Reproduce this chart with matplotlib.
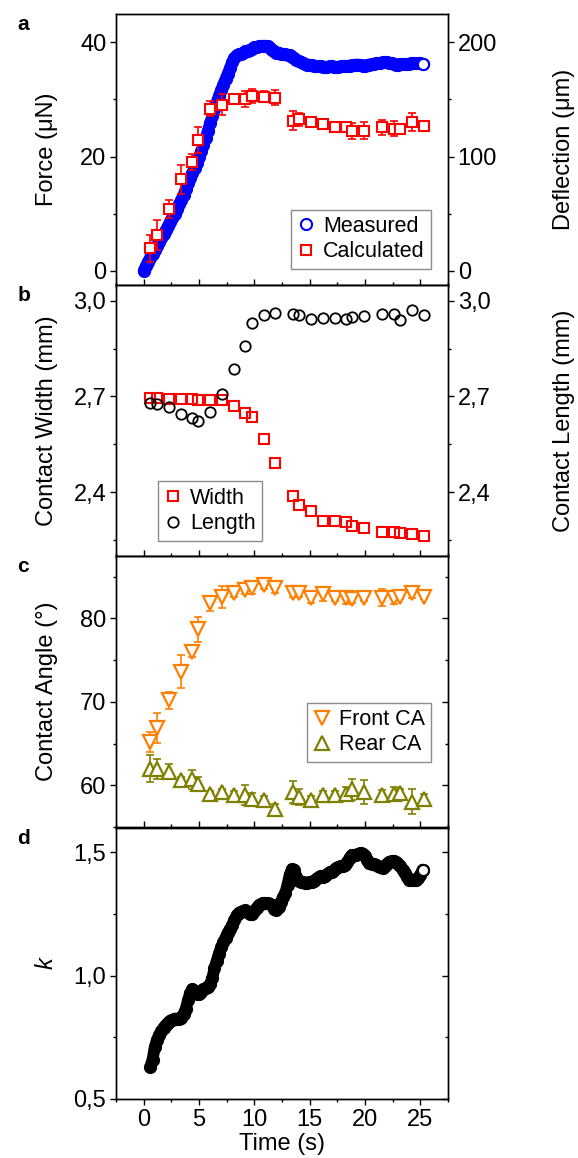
import numpy as np
import matplotlib
matplotlib.use("Agg")
import matplotlib.pyplot as plt
from matplotlib.ticker import MultipleLocator, FuncFormatter

plt.rcParams["font.family"] = ["Liberation Sans", "DejaVu Sans"]
plt.rcParams["font.size"] = 17
plt.rcParams["axes.linewidth"] = 1.0

BLUE = "#0000ff"
RED = "#ff0000"
ORANGE = "#ff7f00"
OLIVE = "#808000"

# measured force (uN), sampled every 0.2 s from t = 0
dt_measured = 0.2
force_measured = [
    0.0, 0.8, 1.6, 2.3, 3.0, 3.7, 4.4, 5.0, 5.7, 6.4,
    7.1, 7.8, 8.6, 9.3, 10.0, 10.8, 11.6, 12.4, 13.3, 14.3,
    15.3, 16.2, 17.1, 18.0, 18.9, 19.9, 20.9, 22.0, 23.2, 24.5,
    25.8, 27.1, 28.3, 29.5, 30.6, 31.6, 32.6, 33.6, 34.5, 35.5,
    36.5, 37.3, 37.7, 37.9, 38.0, 38.2, 38.4, 38.5, 38.7, 38.9,
    39.1, 39.2, 39.3, 39.3, 39.4, 39.4, 39.3, 39.0, 38.7, 38.4,
    38.2, 38.1, 38.0, 37.9, 37.9, 37.8, 37.7, 37.5, 37.2, 36.9,
    36.7, 36.5, 36.3, 36.2, 36.1, 36.0, 36.0, 35.9, 35.8, 35.8,
    35.8, 35.7, 35.7, 35.7, 35.8, 35.8, 35.7, 35.7, 35.7, 35.8,
    35.8, 35.8, 35.9, 35.9, 36.0, 36.0, 36.1, 36.1, 36.0, 35.9,
    35.9, 36.0, 36.1, 36.2, 36.2, 36.3, 36.3, 36.4, 36.5, 36.5,
    36.5, 36.4, 36.3, 36.2, 36.1, 36.1, 36.2, 36.2, 36.2, 36.2,
    36.2, 36.3, 36.3, 36.3, 36.4, 36.3, 36.2,
]

# k, sampled every 0.2 s from t = 0.6
t0_k = 0.6
dt_k = 0.2
k_values = [
    0.630, 0.660, 0.710, 0.740, 0.760, 0.775, 0.790, 0.800, 0.810, 0.818,
    0.822, 0.826, 0.826, 0.826, 0.830, 0.845, 0.865, 0.900, 0.930, 0.945,
    0.940, 0.925, 0.925, 0.935, 0.945, 0.950, 0.955, 0.965, 0.990, 1.030,
    1.060, 1.090, 1.115, 1.135, 1.155, 1.175, 1.190, 1.205, 1.225, 1.245,
    1.255, 1.260, 1.262, 1.265, 1.258, 1.250, 1.252, 1.262, 1.275, 1.285,
    1.292, 1.295, 1.293, 1.295, 1.290, 1.285, 1.272, 1.265, 1.280, 1.300,
    1.320, 1.335, 1.370, 1.410, 1.432, 1.430, 1.400, 1.385, 1.380, 1.380,
    1.378, 1.378, 1.380, 1.382, 1.385, 1.392, 1.400, 1.405, 1.400, 1.405,
    1.412, 1.420, 1.422, 1.428, 1.435, 1.440, 1.445, 1.445, 1.450, 1.460,
    1.478, 1.490, 1.490, 1.488, 1.495, 1.498, 1.495, 1.485, 1.470, 1.458,
    1.455, 1.452, 1.450, 1.445, 1.440, 1.438, 1.445, 1.455, 1.462, 1.465,
    1.465, 1.460, 1.455, 1.445, 1.430, 1.415, 1.400, 1.390, 1.388, 1.390,
    1.390, 1.395, 1.410, 1.430,
]

# analysed frames
t_frames = [0.6, 1.2, 2.3, 3.4, 4.4, 4.95, 6.0, 7.1, 8.2, 9.2, 9.8, 10.9, 11.9,
            13.5, 14.0, 15.1, 16.2, 17.3, 18.3, 18.85, 19.9, 21.55, 22.65, 23.15,
            24.25, 25.35]
force_calc = [3.9, 6.2, 10.8, 16.0, 19.0, 22.9, 28.4, 29.1, 30.0, 30.1, 30.6, 30.5,
              30.3, 26.3, 26.5, 26.1, 25.7, 25.2, 25.2, 24.4, 24.5, 25.1, 24.9, 24.9,
              26.1, 25.3]
force_calc_err = [2.4, 2.6, 1.6, 2.6, 1.4, 2.2, 1.3, 1.8, 0.8, 1.4, 1.3, 1.0, 1.3,
                  1.6, 1.2, 0.6, 0.8, 0.5, 0.9, 1.4, 1.5, 1.3, 1.3, 0.5, 1.6, 0.5]
width_mm = [2.696, 2.696, 2.692, 2.692, 2.692, 2.688, 2.688, 2.688, 2.670, 2.647,
            2.637, 2.568, 2.493, 2.389, 2.359, 2.342, 2.311, 2.311, 2.307, 2.293,
            2.287, 2.276, 2.276, 2.273, 2.270, 2.262]
length_mm = [2.679, 2.675, 2.668, 2.645, 2.634, 2.624, 2.650, 2.708, 2.786, 2.858,
             2.929, 2.956, 2.962, 2.960, 2.954, 2.942, 2.945, 2.945, 2.944, 2.950,
             2.952, 2.958, 2.957, 2.940, 2.971, 2.954]
front_ca = [65.2, 66.9, 70.2, 73.6, 76.0, 78.7, 81.8, 82.6, 83.1, 83.4, 83.6, 84.0,
            83.7, 83.0, 83.0, 82.4, 82.9, 82.4, 82.5, 82.3, 82.4, 82.5, 82.5, 82.6,
            83.0, 82.6]
front_ca_err = [1.2, 1.8, 1.0, 2.0, 0.6, 1.5, 0.9, 1.3, 0.5, 0.5, 0.7, 0.5, 0.7,
                0.4, 0.4, 0.6, 0.8, 0.3, 0.8, 0.4, 0.3, 1.0, 0.8, 0.3, 0.6, 0.3]
rear_ca = [62.0, 61.9, 61.6, 60.6, 60.7, 60.2, 58.9, 59.2, 58.8, 58.8, 58.4, 58.2,
           57.2, 59.2, 58.6, 58.2, 58.8, 58.8, 59.0, 59.5, 59.2, 58.8, 59.0, 59.1,
           58.0, 58.4]
rear_ca_err = [1.6, 1.2, 0.9, 0.4, 1.1, 0.8, 0.4, 0.4, 0.5, 1.2, 0.7, 0.5, 0.6,
               1.3, 1.0, 0.5, 0.5, 0.5, 0.8, 1.3, 1.4, 0.6, 0.8, 0.5, 1.5, 0.6]

t_measured = np.arange(len(force_measured)) * dt_measured
t_k = t0_k + np.arange(len(k_values)) * dt_k

comma = FuncFormatter(lambda v, p: f"{v:.1f}".replace(".", ","))

fig = plt.figure(figsize=(5.78, 11.58), dpi=100)
W, H = 578.0, 1158.0
left, width = 116 / W, 332 / W
ph = 271.2 / H
bottoms = [1 - 285.0 / H, 1 - 556.0 / H, 1 - 827.0 / H, 1 - 1099.0 / H]
axs = [fig.add_axes([left, b, width, ph]) for b in bottoms]

leg_kw = dict(frameon=True, fancybox=False, edgecolor="#8c8c8c", framealpha=1,
              fontsize=15.5, handlelength=0.8, handletextpad=0.4, borderpad=0.3,
              labelspacing=0.2, borderaxespad=0)


def style(ax, last=False):
    ax.set_xlim(-2.5, 27.5)
    ax.xaxis.set_major_locator(MultipleLocator(5))
    ax.xaxis.set_minor_locator(MultipleLocator(2.5))
    if last:
        ax.tick_params(axis="x", which="major", direction="out", length=4, width=1)
        ax.tick_params(axis="x", which="minor", direction="out", length=2.5, width=1)
    else:
        ax.tick_params(axis="x", which="major", direction="inout", length=8, width=1,
                       labelbottom=False)
        ax.tick_params(axis="x", which="minor", direction="inout", length=5, width=1)
    ax.tick_params(axis="y", which="major", direction="out", length=4, width=1, pad=3)
    ax.tick_params(axis="y", which="minor", direction="out", length=2.5, width=1)


def right_axis(ax, lim, major, minor, labels=True, fmt=None):
    rx = ax.twinx()
    rx.set_ylim(*lim)
    rx.yaxis.set_major_locator(MultipleLocator(major))
    rx.yaxis.set_minor_locator(MultipleLocator(minor))
    if fmt is not None:
        rx.yaxis.set_major_formatter(fmt)
    d = "out" if labels else "in"
    rx.tick_params(axis="y", which="major", direction=d, length=4, width=1,
                   labelright=labels, pad=3)
    rx.tick_params(axis="y", which="minor", direction=d, length=2.5, width=1)
    return rx


# a: force
ax = axs[0]
style(ax)
ax.plot(t_measured, force_measured, color=BLUE, lw=8.5, solid_capstyle="round",
        zorder=1)
ax.plot(t_measured, force_measured, ls="none", marker="o", ms=8, mfc="none",
        mec=BLUE, mew=1.5, zorder=2, label="Measured")
ax.plot(t_measured[-1], force_measured[-1], ls="none", marker="o", ms=8, mfc="white",
        mec=BLUE, mew=1.5, zorder=2)
ax.errorbar(t_frames, force_calc, yerr=force_calc_err, fmt="none", ecolor=RED,
            elinewidth=1.2, capsize=3, capthick=1.2, zorder=3)
ax.plot(t_frames, force_calc, ls="none", marker="s", ms=7, mfc="white", mec=RED,
        mew=1.5, zorder=4, label="Calculated")
ax.set_ylim(-2.5, 45)
ax.yaxis.set_major_locator(MultipleLocator(20))
ax.yaxis.set_minor_locator(MultipleLocator(10))
ax.set_ylabel("Force (μN)")
ax.legend(loc="lower right", bbox_to_anchor=(0.95, 0.06), **leg_kw)
ra = right_axis(ax, (-12.5, 225), 100, 50)
ra.set_ylabel("Deflection (μm)")

# b: contact width / length
ax = axs[1]
style(ax)
ax.plot(t_frames, width_mm, ls="none", marker="s", ms=7, mfc="none", mec=RED,
        mew=1.5, label="Width")
ax.plot(t_frames, length_mm, ls="none", marker="o", ms=7.5, mfc="none", mec="black",
        mew=1.3, label="Length")
ax.set_ylim(2.2, 3.05)
ax.yaxis.set_major_locator(MultipleLocator(0.3))
ax.yaxis.set_minor_locator(MultipleLocator(0.15))
ax.yaxis.set_major_formatter(comma)
ax.set_ylabel("Contact Width (mm)")
ax.legend(loc="lower left", bbox_to_anchor=(0.125, 0.057), **leg_kw)
rb = right_axis(ax, (2.2, 3.05), 0.3, 0.15, fmt=comma)
rb.set_ylabel("Contact Length (mm)")

# c: contact angles
ax = axs[2]
style(ax)
ax.errorbar(t_frames, front_ca, yerr=front_ca_err, fmt="none", ecolor=ORANGE,
            elinewidth=1.2, capsize=3, capthick=1.2, zorder=2)
ax.errorbar(t_frames, rear_ca, yerr=rear_ca_err, fmt="none", ecolor=OLIVE,
            elinewidth=1.2, capsize=3, capthick=1.2, zorder=2)
ax.plot(t_frames, front_ca, ls="none", marker="v", ms=10, mfc="white", mec=ORANGE,
        mew=1.6, zorder=3, label="Front CA")
ax.plot(t_frames, rear_ca, ls="none", marker="^", ms=10, mfc="white", mec=OLIVE,
        mew=1.6, zorder=3, label="Rear CA")
ax.set_ylim(55, 87.5)
ax.yaxis.set_major_locator(MultipleLocator(10))
ax.yaxis.set_minor_locator(MultipleLocator(5))
ax.set_ylabel("Contact Angle (°)")
ax.legend(loc="lower right", bbox_to_anchor=(0.95, 0.24), **leg_kw)
right_axis(ax, (55, 87.5), 10, 5, labels=False)

# d: k
ax = axs[3]
style(ax, last=True)
ax.plot(t_k, k_values, color="black", lw=8.5, solid_capstyle="round", zorder=1)
ax.plot(t_k, k_values, ls="none", marker="o", ms=8, mfc="none", mec="black",
        mew=1.5, zorder=2)
ax.plot(t_k[-1], k_values[-1], ls="none", marker="o", ms=8, mfc="white",
        mec="black", mew=1.5, zorder=2)
ax.set_ylim(0.5, 1.6)
ax.yaxis.set_major_locator(MultipleLocator(0.5))
ax.yaxis.set_minor_locator(MultipleLocator(0.25))
ax.yaxis.set_major_formatter(comma)
ax.set_ylabel("k", style="italic")
ax.set_xlabel("Time (s)", labelpad=1)
right_axis(ax, (0.5, 1.6), 0.5, 0.25, labels=False)

for a in axs:
    a.yaxis.set_label_coords(-0.175, 0.5)
ra.yaxis.set_label_coords(1.315, 0.5)
rb.yaxis.set_label_coords(1.315, 0.5)

for letter, b in zip("abcd", bottoms):
    fig.text(0.03, b + ph - 1 / H, letter, fontsize=15, fontweight="bold",
             ha="left", va="top")

fig.savefig("out.png", dpi=100)
